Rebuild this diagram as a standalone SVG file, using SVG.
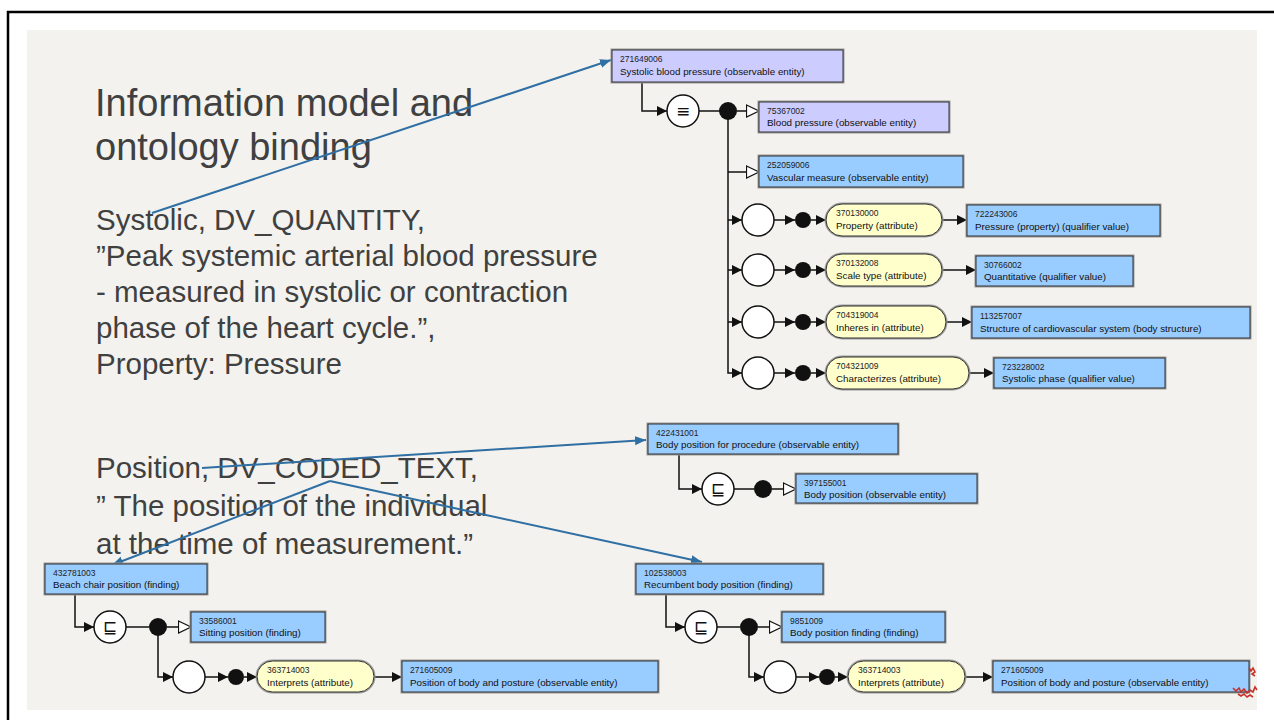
<svg xmlns="http://www.w3.org/2000/svg" width="1274" height="720" viewBox="0 0 1274 720">
<style>
.bg{fill:#f3f2ee}
.t{font-family:"Liberation Sans",Arial,sans-serif;fill:#404040}
.title{font-size:38px}
.body{font-size:29.5px}
.blue{fill:#99ccff;stroke:#333;stroke-width:1}
.purp{fill:#ccccff;stroke:#333;stroke-width:1}
.yel{fill:#ffffcc;stroke:#333;stroke-width:1}
.halo{fill:none;stroke:#9a9a9a;stroke-width:3}
.id{font-family:"Liberation Sans",Arial,sans-serif;font-size:8.5px;fill:#222}
.lb{font-family:"Liberation Sans",Arial,sans-serif;font-size:9.8px;fill:#111}
.ln{fill:none;stroke:#111;stroke-width:1.5}
.circ{fill:#fff;stroke:#111;stroke-width:1.5}
.dot{fill:#111}
.sym{font-family:"DejaVu Sans",sans-serif;font-size:17px;fill:#111;text-anchor:middle}
.ann{fill:none;stroke:#2f6fa3;stroke-width:2}
</style>
<defs>
<marker id="fa" markerUnits="userSpaceOnUse" markerWidth="11" markerHeight="10" refX="10" refY="5" orient="auto"><path d="M0,0 L10,5 L0,10 z" fill="#111"/></marker>
<marker id="oa" markerUnits="userSpaceOnUse" markerWidth="15" markerHeight="14" refX="13.5" refY="7" orient="auto"><path d="M1,1 L13.5,7 L1,13 z" fill="#fff" stroke="#111" stroke-width="1.2"/></marker>
<marker id="ba" markerUnits="userSpaceOnUse" markerWidth="12" markerHeight="10" refX="11" refY="5" orient="auto"><path d="M0,0.5 L11,5 L0,9.5 z" fill="#2f6fa3"/></marker>
</defs>

<rect x="0" y="0" width="1274" height="720" fill="#fff"/>
<rect class="bg" x="27" y="30" width="1230" height="680"/>
<path d="M8,720 V12 H1274" fill="none" stroke="#000" stroke-width="2.5"/>

<g id="text-left">
<text class="t title" x="95" y="116">Information model and</text>
<text class="t title" x="95" y="160">ontology binding</text>
<text class="t body" x="96" y="230">Systolic, DV_QUANTITY,</text>
<text class="t body" x="96" y="266">”Peak systemic arterial blood pressure</text>
<text class="t body" x="96" y="302">- measured in systolic or contraction</text>
<text class="t body" x="96" y="338">phase of the heart cycle.”,</text>
<text class="t body" x="96" y="374">Property: Pressure</text>
<text class="t body" x="96" y="478">Position, DV_CODED_TEXT,</text>
<text class="t body" x="96" y="516">” The position of the individual</text>
<text class="t body" x="96" y="554">at the time of measurement.”</text>
</g>

<g id="connectors">
<path class="ln" d="M642,82 V111 H667" marker-end="url(#fa)"/>
<path class="ln" d="M699,111 H720"/>
<path class="ln" d="M737,111 H759" marker-end="url(#oa)"/>
<path class="ln" d="M728,118 V373 H742" marker-end="url(#fa)"/>
<path class="ln" d="M728,172 H759" marker-end="url(#oa)"/>
<path class="ln" d="M728,220 H742" marker-end="url(#fa)"/>
<path class="ln" d="M728,270 H742" marker-end="url(#fa)"/>
<path class="ln" d="M728,322 H742" marker-end="url(#fa)"/>
<path class="ln" d="M774,220 H795" marker-end="url(#fa)"/>
<path class="ln" d="M774,270 H795" marker-end="url(#fa)"/>
<path class="ln" d="M774,322 H795" marker-end="url(#fa)"/>
<path class="ln" d="M774,373 H795" marker-end="url(#fa)"/>
<path class="ln" d="M811,220 H826" marker-end="url(#fa)"/>
<path class="ln" d="M811,270 H826" marker-end="url(#fa)"/>
<path class="ln" d="M811,322 H826" marker-end="url(#fa)"/>
<path class="ln" d="M811,373 H826" marker-end="url(#fa)"/>
<path class="ln" d="M942,220 H967" marker-end="url(#fa)"/>
<path class="ln" d="M942,270 H976" marker-end="url(#fa)"/>
<path class="ln" d="M946,322 H972" marker-end="url(#fa)"/>
<path class="ln" d="M969,373 H994" marker-end="url(#fa)"/>
<path class="ln" d="M679,454 V489 H702" marker-end="url(#fa)"/>
<path class="ln" d="M734,489 H754"/>
<path class="ln" d="M772,489 H796" marker-end="url(#oa)"/>
<path class="ln" d="M666,594 V627 H685" marker-end="url(#fa)"/>
<path class="ln" d="M717,627 H740"/>
<path class="ln" d="M758,627 H782" marker-end="url(#oa)"/>
<path class="ln" d="M749,634 V677 H764" marker-end="url(#fa)"/>
<path class="ln" d="M796,677 H819" marker-end="url(#fa)"/>
<path class="ln" d="M835,677 H848" marker-end="url(#fa)"/>
<path class="ln" d="M965,677 H993" marker-end="url(#fa)"/>
<path class="ln" d="M75,594 V627 H94" marker-end="url(#fa)"/>
<path class="ln" d="M126,627 H149"/>
<path class="ln" d="M167,627 H191" marker-end="url(#oa)"/>
<path class="ln" d="M158,634 V677 H173" marker-end="url(#fa)"/>
<path class="ln" d="M205,677 H228" marker-end="url(#fa)"/>
<path class="ln" d="M244,677 H257" marker-end="url(#fa)"/>
<path class="ln" d="M374,677 H402" marker-end="url(#fa)"/>
<path class="ann" d="M152,213 L611,60" marker-end="url(#ba)"/>
<path class="ann" d="M202,468 L646,440" marker-end="url(#ba)"/>
<path class="ann" d="M330,481 L112,565" marker-end="url(#ba)"/>
<path class="ann" d="M330,481 L702,562" marker-end="url(#ba)"/>
</g>

<g id="n271649006"><rect class="halo" x="612" y="50" width="231" height="32"/><rect class="purp" x="612" y="50" width="231" height="32"/><text class="id" x="620" y="62">271649006</text><text class="lb" x="620" y="75">Systolic blood pressure (observable entity)</text></g>
<g id="op1"><circle class="circ" cx="683" cy="111" r="16"/><text class="sym" x="683" y="117">≡</text></g>
<g id="d1"><circle class="dot" cx="728" cy="111" r="9"/></g>
<g id="n75367002"><rect class="halo" x="759" y="102" width="190" height="30"/><rect class="purp" x="759" y="102" width="190" height="30"/><text class="id" x="767" y="114">75367002</text><text class="lb" x="767" y="126">Blood pressure (observable entity)</text></g>
<g id="n252059006"><rect class="halo" x="759" y="156" width="204" height="31"/><rect class="blue" x="759" y="156" width="204" height="31"/><text class="id" x="767" y="168">252059006</text><text class="lb" x="767" y="181">Vascular measure (observable entity)</text></g>

<g id="r1c"><circle class="circ" cx="758" cy="220" r="16"/><circle class="dot" cx="803" cy="220" r="8"/></g>
<g id="a370130000"><rect class="halo" x="826" y="204" width="116" height="32" rx="16"/><rect class="yel" x="826" y="204" width="116" height="32" rx="16"/><text class="id" x="836" y="216">370130000</text><text class="lb" x="836" y="229">Property (attribute)</text></g>
<g id="n722243006"><rect class="halo" x="967" y="205" width="193" height="31"/><rect class="blue" x="967" y="205" width="193" height="31"/><text class="id" x="975" y="217">722243006</text><text class="lb" x="975" y="230">Pressure (property) (qualifier value)</text></g>

<g id="r2c"><circle class="circ" cx="758" cy="270" r="16"/><circle class="dot" cx="803" cy="270" r="8"/></g>
<g id="a370132008"><rect class="halo" x="826" y="254" width="116" height="32" rx="16"/><rect class="yel" x="826" y="254" width="116" height="32" rx="16"/><text class="id" x="836" y="266">370132008</text><text class="lb" x="836" y="279">Scale type (attribute)</text></g>
<g id="n30766002"><rect class="halo" x="976" y="256" width="157" height="30"/><rect class="blue" x="976" y="256" width="157" height="30"/><text class="id" x="984" y="268">30766002</text><text class="lb" x="984" y="280">Quantitative (qualifier value)</text></g>

<g id="r3c"><circle class="circ" cx="758" cy="322" r="16"/><circle class="dot" cx="803" cy="322" r="8"/></g>
<g id="a704319004"><rect class="halo" x="826" y="306" width="120" height="32" rx="16"/><rect class="yel" x="826" y="306" width="120" height="32" rx="16"/><text class="id" x="836" y="318">704319004</text><text class="lb" x="836" y="331">Inheres in (attribute)</text></g>
<g id="n113257007"><rect class="halo" x="972" y="307" width="278" height="31"/><rect class="blue" x="972" y="307" width="278" height="31"/><text class="id" x="980" y="319">113257007</text><text class="lb" x="980" y="332">Structure of cardiovascular system (body structure)</text></g>

<g id="r4c"><circle class="circ" cx="758" cy="373" r="16"/><circle class="dot" cx="803" cy="373" r="8"/></g>
<g id="a704321009"><rect class="halo" x="826" y="357" width="143" height="32" rx="16"/><rect class="yel" x="826" y="357" width="143" height="32" rx="16"/><text class="id" x="836" y="369">704321009</text><text class="lb" x="836" y="382">Characterizes (attribute)</text></g>
<g id="n723228002"><rect class="halo" x="994" y="358" width="171" height="30"/><rect class="blue" x="994" y="358" width="171" height="30"/><text class="id" x="1002" y="370">723228002</text><text class="lb" x="1002" y="382">Systolic phase (qualifier value)</text></g>

<g id="n422431001"><rect class="halo" x="648" y="424" width="250" height="30"/><rect class="blue" x="648" y="424" width="250" height="30"/><text class="id" x="656" y="436">422431001</text><text class="lb" x="656" y="448">Body position for procedure (observable entity)</text></g>
<g id="op2"><circle class="circ" cx="718" cy="489" r="16"/><text class="sym" x="718" y="495">⊑</text><circle class="dot" cx="763" cy="489" r="9"/></g>
<g id="n397155001"><rect class="halo" x="796" y="474" width="181" height="29"/><rect class="blue" x="796" y="474" width="181" height="29"/><text class="id" x="804" y="486">397155001</text><text class="lb" x="804" y="498">Body position (observable entity)</text></g>

<g id="n102538003"><rect class="halo" x="636" y="564" width="187" height="30"/><rect class="blue" x="636" y="564" width="187" height="30"/><text class="id" x="644" y="576">102538003</text><text class="lb" x="644" y="588">Recumbent body position (finding)</text></g>
<g id="op3"><circle class="circ" cx="701" cy="627" r="16"/><text class="sym" x="701" y="633">⊑</text><circle class="dot" cx="749" cy="627" r="9"/></g>
<g id="n9851009"><rect class="halo" x="782" y="612" width="163" height="30"/><rect class="blue" x="782" y="612" width="163" height="30"/><text class="id" x="790" y="624">9851009</text><text class="lb" x="790" y="636">Body position finding (finding)</text></g>
<g id="r5c"><circle class="circ" cx="780" cy="677" r="16"/><circle class="dot" cx="827" cy="677" r="8"/></g>
<g id="a363714003b"><rect class="halo" x="848" y="661" width="117" height="31" rx="15.5"/><rect class="yel" x="848" y="661" width="117" height="31" rx="15.5"/><text class="id" x="858" y="673">363714003</text><text class="lb" x="858" y="686">Interprets (attribute)</text></g>
<g id="n271605009b"><rect class="halo" x="993" y="661" width="256" height="31"/><rect class="blue" x="993" y="661" width="256" height="31"/><text class="id" x="1001" y="673">271605009</text><text class="lb" x="1001" y="686">Position of body and posture (observable entity)</text></g>

<g id="n432781003"><rect class="halo" x="45" y="564" width="162" height="30"/><rect class="blue" x="45" y="564" width="162" height="30"/><text class="id" x="53" y="576">432781003</text><text class="lb" x="53" y="588">Beach chair position (finding)</text></g>
<g id="op4"><circle class="circ" cx="110" cy="627" r="16"/><text class="sym" x="110" y="633">⊑</text><circle class="dot" cx="158" cy="627" r="9"/></g>
<g id="n33586001"><rect class="halo" x="191" y="612" width="134" height="30"/><rect class="blue" x="191" y="612" width="134" height="30"/><text class="id" x="199" y="624">33586001</text><text class="lb" x="199" y="636">Sitting position (finding)</text></g>
<g id="r6c"><circle class="circ" cx="189" cy="677" r="16"/><circle class="dot" cx="236" cy="677" r="8"/></g>
<g id="a363714003a"><rect class="halo" x="257" y="661" width="117" height="31" rx="15.5"/><rect class="yel" x="257" y="661" width="117" height="31" rx="15.5"/><text class="id" x="267" y="673">363714003</text><text class="lb" x="267" y="686">Interprets (attribute)</text></g>
<g id="n271605009a"><rect class="halo" x="402" y="661" width="256" height="31"/><rect class="blue" x="402" y="661" width="256" height="31"/><text class="id" x="410" y="673">271605009</text><text class="lb" x="410" y="686">Position of body and posture (observable entity)</text></g>

<g id="red-mark" fill="none" stroke="#c8302a" stroke-width="1.6">
<path d="M1249,668 l2,3 l2,-3 l2,4 l-3,2 l3,2"/>
<path d="M1233,688 l3,3 l3,-3 l2,4 l3,-3 l3,4 l3,-3 l3,2 l2,-5 l2,3"/>
<path d="M1238,694 l3,2 l3,-2 l3,3 l3,-2 l3,2"/>
</g>
</svg>
